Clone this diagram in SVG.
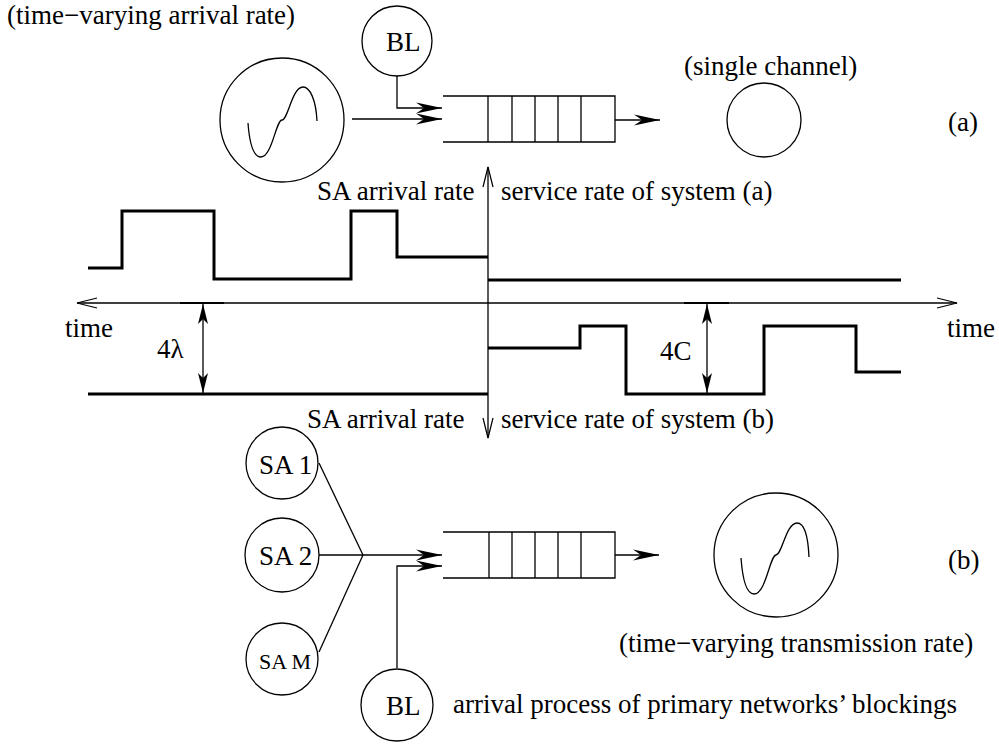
<svg xmlns="http://www.w3.org/2000/svg" width="999" height="745" viewBox="0 0 999 745">
<style>
text{font-family:"Liberation Serif","Times New Roman",serif;font-size:27px;fill:#000}
.c{fill:none;stroke:#000;stroke-width:1.3}
.l{fill:none;stroke:#000;stroke-width:1.3}
.t{fill:none;stroke:#000;stroke-width:3;stroke-linejoin:miter}
.q{fill:#fff;stroke:#000;stroke-width:1.3}
</style>
<defs>
<marker id="st" markerUnits="userSpaceOnUse" markerWidth="30" markerHeight="14" viewBox="-27 -7 30 14" refX="0" refY="0" orient="auto">
<path d="M0,0 L-26,-5.5 L-18,0 L-26,5.5 Z" fill="#000"/>
</marker>
<marker id="dm" markerUnits="userSpaceOnUse" markerWidth="24" markerHeight="14" viewBox="-22 -7 24 14" refX="0" refY="0" orient="auto-start-reverse">
<path d="M0,0 L-20,-5 L-15,0 L-20,5 Z" fill="#000"/>
</marker>
<marker id="op" markerUnits="userSpaceOnUse" markerWidth="24" markerHeight="14" viewBox="-22 -7 24 14" refX="0" refY="0" orient="auto-start-reverse">
<path d="M-20,-5 L0,0 L-20,5" fill="none" stroke="#000" stroke-width="1.2"/>
</marker>
</defs>

<text x="7" y="24">(time−varying arrival rate)</text>

<g id="src-a">
<circle class="c" cx="282" cy="120" r="62"/>
<path class="l" d="M248,123 C250,150 256,157 261,157 C272,157 276,120 282,120 C288,120 292,87 303,87 C310,87 316,100 317,121"/>
</g>
<g id="bl-a">
<circle class="c" cx="397" cy="41" r="35"/>
<text x="386" y="51">BL</text>
</g>
<g id="queue-a">
<path class="l" d="M443,96 H615 V142 H443 M488,96 V142 M512,96 V142 M535,96 V142 M558,96 V142 M581,96 V142"/>
</g>
<g id="server-a">
<circle class="c" cx="764" cy="120" r="37"/>
<text x="684" y="75">(single channel)</text>
</g>
<text x="948" y="131">(a)</text>

<g id="connectors">
<line class="l" x1="352" y1="119" x2="442" y2="119" marker-end="url(#st)"/>
<path class="l" d="M397,76 V108 H442" marker-end="url(#st)"/>
<line class="l" x1="615" y1="120" x2="660" y2="120" marker-end="url(#st)"/>
<line class="l" x1="319" y1="463" x2="363" y2="555"/>
<line class="l" x1="319" y1="555" x2="363" y2="555"/>
<line class="l" x1="319" y1="652" x2="363" y2="555"/>
<line class="l" x1="363" y1="555" x2="442" y2="555" stroke-width="1.7" marker-end="url(#st)"/>
<path class="l" d="M397,668 V566 H442" marker-end="url(#st)"/>
<line class="l" x1="615" y1="555" x2="659" y2="555" marker-end="url(#st)"/>
</g>

<g id="plot">
<line class="l" x1="77" y1="303" x2="957" y2="303" marker-start="url(#op)" marker-end="url(#op)"/>
<line class="l" x1="488" y1="167" x2="488" y2="438" marker-start="url(#op)" marker-end="url(#op)"/>
<line x1="180" y1="303" x2="224" y2="303" stroke="#000" stroke-width="2"/>
<line x1="684" y1="303" x2="729" y2="303" stroke="#000" stroke-width="2"/>
<path class="t" d="M88,268 H122 V211 H214 V279 H351 V211 H397 V257 H488"/>
<path class="t" d="M488,280 H901"/>
<path class="t" d="M88,394 H488"/>
<path class="t" d="M488,348 H580 V326 H626 V394 H764 V326 H856 V372 H901"/>
<line class="l" x1="203" y1="304" x2="203" y2="393" marker-start="url(#dm)" marker-end="url(#dm)"/>
<line class="l" x1="707" y1="304" x2="707" y2="393" marker-start="url(#dm)" marker-end="url(#dm)"/>
<text x="157" y="358">4λ</text>
<text x="660" y="360">4C</text>
<text x="65" y="337">time</text>
<text x="947" y="337">time</text>
<text x="317" y="200">SA arrival rate</text>
<text x="501" y="200">service rate of system (a)</text>
<text x="307" y="428">SA arrival rate</text>
<text x="501" y="428">service rate of system (b)</text>
</g>

<g id="sa1">
<circle class="c" cx="282" cy="463" r="36"/>
<text x="259" y="474">SA 1</text>
</g>
<g id="sa2">
<circle class="c" cx="282" cy="555" r="37"/>
<text x="259" y="565">SA 2</text>
</g>
<g id="saM">
<circle class="c" cx="282" cy="659" r="36"/>
<text x="259" y="669" style="font-size:22px">SA M</text>
</g>
<g id="bl-b">
<circle class="c" cx="397" cy="705" r="36"/>
<text x="386" y="715">BL</text>
</g>
<text x="453" y="713">arrival process of primary networks’ blockings</text>
<g id="queue-b">
<path class="l" d="M443,532 H615 V578 H443 M489,532 V578 M512,532 V578 M535,532 V578 M558,532 V578 M581,532 V578"/>
</g>
<g id="server-b">
<circle class="c" cx="776" cy="555" r="62"/>
<path class="l" d="M741,558 C743,585 748,594 754,594 C766,594 770,555 776,555 C782,555 786,523 797,523 C804,523 808,535 809,557"/>
</g>
<text x="948" y="569">(b)</text>
<text x="619" y="652">(time−varying transmission rate)</text>
</svg>
